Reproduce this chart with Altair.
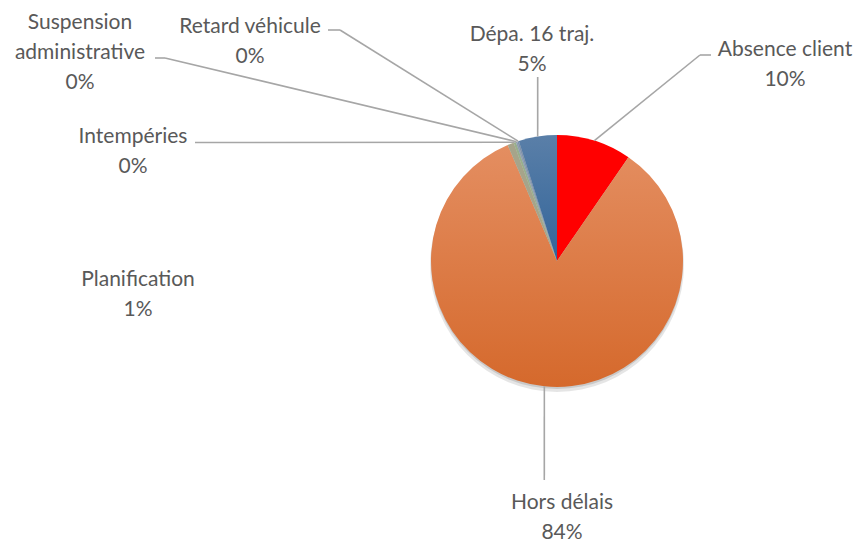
import altair as alt
import pandas as pd

# ---------------- data ----------------
categories = ["Absence client", "Hors délais", "Planification", "Intempéries",
              "Suspension administrative", "Retard véhicule", "Dépa. 16 traj."]
values = [9.6, 84.0, 0.8, 0.3, 0.2, 0.2, 4.9]
label_text = ["Absence client", "Hors délais", "Planification", "Intempéries",
              "Suspension|administrative", "Retard véhicule", "Dépa. 16 traj."]

# ---------------- layout / style ----------------
W, H = 845, 534
CX, CY, R = 549, 253, 126
label_x = [777, 554, 130, 125, 72, 242, 524]
label_y = [42, 495, 272, 129, 15, 19, 27]          # baseline of first line
elbow_x = [692, 536.3, None, 187, 157, 332, 529.7]
elbow_y = [47, 472, None, 134.5, 50, 22, 69]
end_x = [703, 536.3, None, 187, 147, 320, 529.7]
end_y = [47, 472, None, 134.5, 50, 22, 69]

colors = ["#FF0000", "#E07A41", "#A6A48A", "#98AF8C", "#8D9DB2", "#7E91AA", "#43709E"]
grad_orange = {"gradient": "linear", "x1": 0, "y1": 0, "x2": 0, "y2": 1,
               "stops": [{"offset": 0, "color": "#E48E61"}, {"offset": 1, "color": "#D5692C"}]}
grad_blue = {"gradient": "linear", "x1": 0, "y1": 0, "x2": 0, "y2": 1,
             "stops": [{"offset": 0, "color": "#5A7FA8"}, {"offset": 1, "color": "#33659A"}]}

data = pd.DataFrame({
    "cat": categories, "value": values, "text": label_text, "ord": list(range(len(categories))),
    "lx": label_x, "ly": label_y, "bx": elbow_x, "by": elbow_y, "tx": end_x, "ty": end_y,
})

base = alt.Chart(data).transform_joinaggregate(
    total="sum(value)"
).transform_window(
    cum="sum(value)", sort=[alt.SortField("ord")], frame=[None, 0]
).transform_calculate(
    mid="datum.cum - datum.value / 2",
    ang="2 * PI * datum.mid / datum.total",
    ex=f"{CX} + {R} * sin(datum.ang)",
    ey=f"{CY} - {R} * cos(datum.ang)",
    lines="split(datum.text + '|' + format(datum.value / datum.total, '.0%'), '|')",
)

shadow_df = pd.DataFrame({"k": [0]})
shadow1 = alt.Chart(shadow_df).mark_arc(
    theta=0, theta2=6.2832, outerRadius=R + 1, color="#000000", opacity=0.10
).encode(x=alt.value(CX), y=alt.value(CY + 4))
shadow2 = alt.Chart(shadow_df).mark_arc(
    theta=0, theta2=6.2832, outerRadius=R, color="#000000", opacity=0.12
).encode(x=alt.value(CX), y=alt.value(CY + 2))

arcs = alt.Chart(data).mark_arc(outerRadius=R).encode(
    theta=alt.Theta("value:Q", stack=True),
    order=alt.Order("ord:Q"),
    color=alt.Color(
        "cat:N",
        scale=alt.Scale(domain=categories, range=colors),
        legend=None,
        condition=[
            {"test": "datum.cat == 'Hors délais'", "value": grad_orange},
            {"test": "datum.cat == 'Dépa. 16 traj.'", "value": grad_blue},
        ],
    ),
    x=alt.value(CX),
    y=alt.value(CY),
)

rule_main = base.transform_filter("isValid(datum.bx)").mark_rule(
    color="#A6A6A6", strokeWidth=1.6
).encode(
    x=alt.X("ex:Q", scale=None, axis=None),
    y=alt.Y("ey:Q", scale=None, axis=None),
    x2="bx:Q",
    y2="by:Q",
)

rule_tip = base.transform_filter("isValid(datum.bx)").mark_rule(
    color="#A6A6A6", strokeWidth=1.6
).encode(
    x=alt.X("bx:Q", scale=None, axis=None),
    y=alt.Y("by:Q", scale=None, axis=None),
    x2="tx:Q",
    y2="ty:Q",
)

labels = base.mark_text(
    font="Lato", fontSize=21, color="#595959", align="center", lineHeight=30
).encode(
    x=alt.X("lx:Q", scale=None, axis=None),
    y=alt.Y("ly:Q", scale=None, axis=None),
    text=alt.Text("lines:N"),
)

chart = alt.layer(shadow1, shadow2, arcs, rule_main, rule_tip, labels).properties(
    width=W, height=H, padding=0, autosize="none", background="white"
).configure_view(stroke=None)

chart.save("out.html", embed_options={"renderer": "svg", "actions": False})
